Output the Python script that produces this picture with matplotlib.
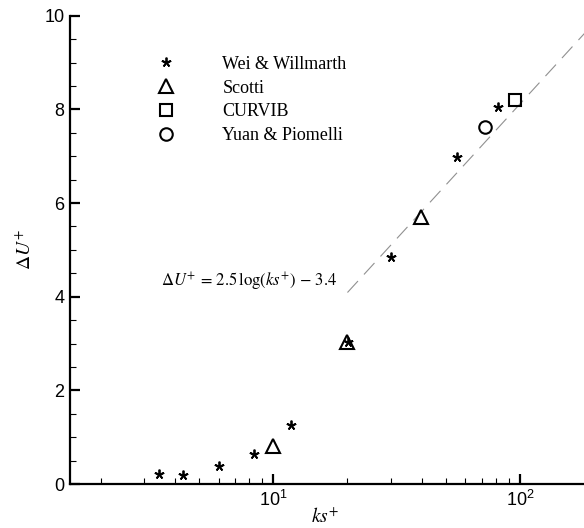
import numpy as np
import matplotlib
matplotlib.use('Agg')
import matplotlib.pyplot as plt

plt.rcParams['font.family'] = ['Liberation Sans', 'DejaVu Sans']
plt.rcParams['mathtext.fontset'] = 'stix'

# 資料
wei_ks = [3.44, 4.3, 6.0, 8.36, 11.85, 20.1, 29.9, 55.8, 81.7]
wei_du = [0.22, 0.19, 0.38, 0.64, 1.27, 3.04, 4.84, 6.99, 8.06]
scotti_ks = [10.0, 20.0, 39.9]
scotti_du = [0.81, 3.04, 5.71]
curvib_ks = [96.0]
curvib_du = [8.19]
yuan_ks = [72.0]
yuan_du = [7.63]
fit_ks = [20.0, 185.0]

fig = plt.figure(figsize=(5.84, 5.28), dpi=100)
ax = fig.add_axes([0.1199, 0.0833, 0.8801, 0.8870])

# 擬合線 dU+ = 2.5 ln(ks+) - 3.4
xs = np.logspace(np.log10(fit_ks[0]), np.log10(fit_ks[1]), 100)
ax.plot(xs, 2.5 * np.log(xs) - 3.4, color='#909090', lw=0.8,
        dashes=(14, 8), zorder=1)

ax.plot(wei_ks, wei_du, ls='none', marker=(5, 2, 0), ms=7, mew=1.3,
        color='black', label='Wei & Willmarth')
ax.plot(scotti_ks, scotti_du, ls='none', marker='^', ms=10, mew=1.5,
        mfc='none', mec='black', label='Scotti')
ax.plot(curvib_ks, curvib_du, ls='none', marker='s', ms=9, mew=1.5,
        mfc='none', mec='black', label='CURVIB')
ax.plot(yuan_ks, yuan_du, ls='none', marker='o', ms=9, mew=1.5,
        mfc='none', mec='black', label='Yuan & Piomelli')

ax.set_xscale('log')
ax.set_xlim(1.5, 182)
ax.set_ylim(0, 10)
ax.set_yticks([0, 2, 4, 6, 8, 10])
ax.set_yticks(np.arange(0, 10.01, 0.5), minor=True)
ax.set_xticks([10, 100])
ax.set_xticklabels([r'$\mathdefault{10^{1}}$', r'$\mathdefault{10^{2}}$'])

for s in ['top', 'right']:
    ax.spines[s].set_visible(False)
for s in ['left', 'bottom']:
    ax.spines[s].set_linewidth(1.6)
ax.tick_params(which='major', direction='in', length=7.5, width=1.6,
               labelsize=13, pad=4)
ax.tick_params(which='minor', direction='in', length=4.3, width=0.8)

# 軸標題
fig.text(0.557, 0.02, r'$ks^{+}$', fontsize=14, ha='center', va='center')
fig.text(0.043, 0.527, r'$\Delta U^{+}$', fontsize=14, ha='center',
         va='center', rotation=90)

ax.text(3.5, 4.32, r'$\Delta U^{+}\, = \,2.5\,\log(ks^{+})\, - \,3.4$',
        fontsize=12, va='center')

leg = ax.legend(loc='upper left', bbox_to_anchor=(0.156, 0.93), frameon=False,
                prop={'family': 'Liberation Serif', 'size': 13},
                handlelength=1.0, handletextpad=2.6, labelspacing=0.38,
                borderaxespad=0)

fig.savefig('out.png', dpi=100)
